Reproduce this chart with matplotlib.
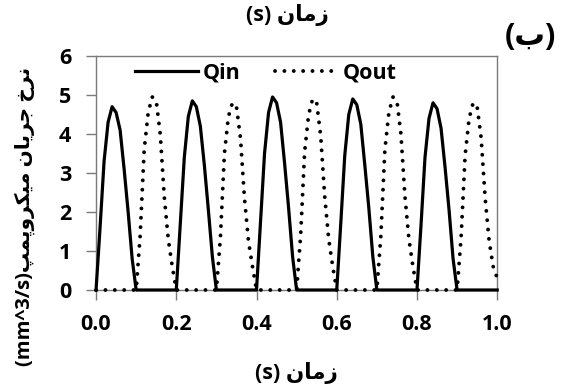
import numpy as np
import matplotlib
matplotlib.use("Agg")
import matplotlib.pyplot as plt

plt.rcParams['font.family'] = ['Open Sans', 'DejaVu Sans']
plt.rcParams['font.weight'] = 'bold'

# time axis, 0.01 s steps
t = np.round(np.arange(0, 101) * 0.01, 2)

q_in = [
    0, 1.6, 3.3, 4.3, 4.7, 4.55, 4.1, 3.1, 2.0, 0.8,
    0, 0, 0, 0, 0, 0, 0, 0, 0, 0,
    0, 1.7, 3.4, 4.45, 4.85, 4.7, 4.2, 3.2, 2.05, 0.85,
    0, 0, 0, 0, 0, 0, 0, 0, 0, 0,
    0, 1.75, 3.5, 4.55, 4.95, 4.8, 4.3, 3.25, 2.1, 0.85,
    0, 0, 0, 0, 0, 0, 0, 0, 0, 0,
    0, 1.7, 3.45, 4.5, 4.9, 4.75, 4.25, 3.2, 2.1, 0.85,
    0, 0, 0, 0, 0, 0, 0, 0, 0, 0,
    0, 1.65, 3.4, 4.4, 4.8, 4.65, 4.15, 3.15, 2.05, 0.8,
    0, 0, 0, 0, 0, 0, 0, 0, 0, 0,
    0,
]

q_out = [
    0, 0, 0, 0, 0, 0, 0, 0, 0, 0,
    0, 1.4, 3.6, 4.55, 4.95, 4.85, 4.0, 2.4, 1.3, 0.6,
    0, 0, 0, 0, 0, 0, 0, 0, 0, 0,
    0, 1.35, 3.5, 4.45, 4.8, 4.7, 3.9, 2.35, 1.25, 0.6,
    0, 0, 0, 0, 0, 0, 0, 0, 0, 0,
    0, 1.4, 3.55, 4.5, 4.9, 4.8, 3.95, 2.4, 1.3, 0.6,
    0, 0, 0, 0, 0, 0, 0, 0, 0, 0,
    0, 1.4, 3.6, 4.55, 4.95, 4.85, 4.0, 2.4, 1.3, 0.6,
    0, 0, 0, 0, 0, 0, 0, 0, 0, 0,
    0, 1.35, 3.45, 4.4, 4.8, 4.7, 3.9, 2.35, 1.25, 0.6,
    0.3,
]

x_ticks = [0.0, 0.2, 0.4, 0.6, 0.8, 1.0]
y_ticks = [0, 1, 2, 3, 4, 5, 6]

# Persian labels written in presentation forms (visual order)
zaman = '\ufee5\ufe8e\ufee3\ufeaf'  # زمان
x_label = '(s) ' + zaman
y_label = ('(mm^3/s)'
           + '\ufb57\ufee4\ufb58\ufeed\ufeae\ufb91\ufef4\ufee3'  # میکروپمپ
           + ' ' + '\ufee5\ufe8e\ufef3\ufeae\ufe9f'                # جریان
           + ' ' + '\ufea5\ufeae\ufee7')                            # نرخ
panel = '(\ufe8f)'  # (ب)

fig = plt.figure(figsize=(5.65, 3.89), dpi=100)
ax = fig.add_axes([0.170, 0.2545, 0.710, 0.6015])

ax.plot(t, q_in, color='black', lw=2.3, label='Qin', clip_on=False, zorder=3)
ax.plot(t, q_out, color='black', lw=2.8, linestyle=(0, (0.01, 2.4)),
        dash_capstyle='round', label='Qout', clip_on=False, zorder=3)

ax.set_xlim(0, 1.0)
ax.set_ylim(0, 6)
ax.set_xticks(x_ticks)
ax.set_xticklabels([f'{v:.1f}' for v in x_ticks])
ax.set_yticks(y_ticks)

for s in ax.spines.values():
    s.set_color('#7a7a7a')
    s.set_linewidth(1.0)
ax.tick_params(axis='both', direction='out', colors='#7a7a7a', labelcolor='black',
               labelsize=15.5, width=1.0)
ax.tick_params(axis='x', length=7, pad=10)
ax.tick_params(axis='y', length=7, pad=11)

ax.legend(loc='center', ncol=2, frameon=False, fontsize=15.5,
          handlelength=2.9, handletextpad=0.25, columnspacing=1.6,
          bbox_to_anchor=(0.424, 0.927))

ax.set_xlabel(x_label, fontsize=15.5, fontweight='bold', labelpad=20)
fig.text(287 / 565, 1 - 15 / 389, x_label, fontsize=15.5, fontweight='bold',
         ha='center', va='center')
fig.text(25 / 565, 1 - 216 / 389, y_label, fontsize=14.5, fontweight='bold',
         rotation=90, ha='center', va='center')
fig.text(530 / 565, 1 - 37 / 389, panel, fontsize=22, fontweight='bold',
         ha='center', va='center')

fig.savefig('out.png', dpi=100)
